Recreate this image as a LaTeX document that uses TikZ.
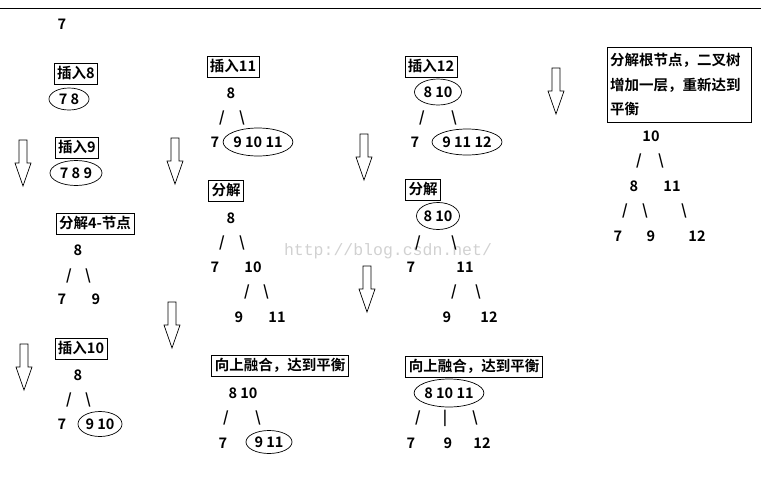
\documentclass[tikz,border=0pt]{standalone}
\usepackage{fontspec}
\setmainfont{Noto Sans CJK SC}[BoldFont={Noto Sans CJK SC Bold}]
\newfontfamily\wmfont{Liberation Mono}
\usetikzlibrary{shapes.geometric}
\begin{document}
\begin{tikzpicture}[x=1pt,y=-1pt,
  lbl/.style={font=\bfseries\fontsize{14.5}{16}\selectfont, inner sep=0pt},
  box/.style={lbl, draw, line width=0.8pt, inner xsep=3pt, inner ysep=3.5pt, text height=12pt, text depth=2.5pt},
  oval/.style={lbl, draw, ellipse, line width=0.7pt, inner sep=0pt},
  downblock/.pic={\draw[line width=0.7pt, fill=white] (-4,0) -- (4,0) -- (4,23) -- (8,23) -- (0,46) -- (-8,23) -- (-4,23) -- cycle;}
]
\useasboundingbox (0,0) rectangle (761,483);
\coordinate (tl) at (0,8);
\coordinate (tr) at (761,8);
\draw[line width=1pt] (tl) -- (tr);

% watermark
\node[font=\wmfont\fontsize{16.5}{16.5}\selectfont, text=black!18, inner sep=0pt] (wm) at (388,251) {http://blog.csdn.net/};

% arrows
\pic (a1) at (23,140) {downblock};
\pic (a2) at (175,138) {downblock};
\pic (a3) at (172,302) {downblock};
\pic (a4) at (24,344) {downblock};
\pic (a5) at (364,134) {downblock};
\pic (a6) at (367,266) {downblock};
\pic (a7) at (556,68) {downblock};

% column 1
\node[lbl] (c1n0) at (62,24) {7};
\node[box] (c1b1) at (76,74) {插入8};
\node[oval, minimum width=40, minimum height=22] (c1e1) at (69,99) {7 8};
\node[box] (c1b2) at (77,148) {插入9};
\node[oval, minimum width=52, minimum height=25] (c1e2) at (76,173) {7 8 9};
\node[box] (c1b3) at (95,224) {分解4-节点};
\node[lbl] (c1n1) at (78,250) {8};
\node[lbl] (c1s1) at (69,276) {/};
\node[lbl] (c1s2) at (88,276) {\textbackslash};
\node[lbl] (c1n2) at (62,299) {7};
\node[lbl] (c1n3) at (96,299) {9};
\node[box] (c1b4) at (81,349) {插入10};
\node[lbl] (c1n4) at (78,375) {8};
\node[lbl] (c1s3) at (69,400) {/};
\node[lbl] (c1s4) at (88,400) {\textbackslash};
\node[lbl] (c1n5) at (62,424) {7};
\node[oval, minimum width=44, minimum height=25] (c1e3) at (100,424) {9 10};

% column 2
\node[box] (c2b1) at (233,67) {插入11};
\node[lbl] (c2n1) at (231,93) {8};
\node[lbl] (c2s1) at (222,118) {/};
\node[lbl] (c2s2) at (242,118) {\textbackslash};
\node[lbl] (c2n2) at (215,142) {7};
\node[oval, minimum width=62, minimum height=28] (c2e1) at (258,142) {9 10 11};
\node[box] (c2b2) at (226,191) {分解};
\node[lbl] (c2n3) at (231,218) {8};
\node[lbl] (c2s3) at (222,243) {/};
\node[lbl] (c2s4) at (242,243) {\textbackslash};
\node[lbl] (c2n4) at (215,267) {7};
\node[lbl] (c2n5) at (253,267) {10};
\node[lbl] (c2s5) at (247,292) {/};
\node[lbl] (c2s6) at (266,292) {\textbackslash};
\node[lbl] (c2n6) at (239,317) {9};
\node[lbl] (c2n7) at (277,317) {11};
\node[box] (c2b3) at (280,366) {向上融合，达到平衡};
\node[lbl] (c2n8) at (243,393) {8 10};
\node[lbl] (c2s7) at (226,418) {/};
\node[lbl] (c2s8) at (258,418) {\textbackslash};
\node[lbl] (c2n9) at (223,443) {7};
\node[oval, minimum width=46, minimum height=23] (c2e2) at (269,442) {9 11};

% column 3
\node[box] (c3b1) at (431,67) {插入12};
\node[oval, minimum width=47, minimum height=26] (c3e1) at (438,92) {8 10};
\node[lbl] (c3s1) at (422,118) {/};
\node[lbl] (c3s2) at (454,118) {\textbackslash};
\node[lbl] (c3n1) at (415,142) {7};
\node[oval, minimum width=70, minimum height=26] (c3e2) at (467,142) {9 11 12};
\node[box] (c3b2) at (423,190) {分解};
\node[oval, minimum width=43, minimum height=27] (c3e3) at (438,216) {8 10};
\node[lbl] (c3s3) at (418,243) {/};
\node[lbl] (c3s4) at (454,243) {\textbackslash};
\node[lbl] (c3n2) at (411,267) {7};
\node[lbl] (c3n3) at (465,267) {11};
\node[lbl] (c3s5) at (454,292) {/};
\node[lbl] (c3s6) at (478,292) {\textbackslash};
\node[lbl] (c3n4) at (447,317) {9};
\node[lbl] (c3n5) at (489,317) {12};
\node[box] (c3b3) at (474,367) {向上融合，达到平衡};
\node[oval, minimum width=68, minimum height=28] (c3e4) at (449,393) {8 10 11};
\node[lbl] (c3s7) at (418,418) {/};
\node[lbl] (c3s8) at (445,418) {|};
\node[lbl] (c3s9) at (475,418) {\textbackslash};
\node[lbl] (c3n6) at (411,443) {7};
\node[lbl] (c3n7) at (448,443) {9};
\node[lbl] (c3n8) at (482,443) {12};

% column 4
\node[lbl, draw, line width=0.8pt, minimum width=144, minimum height=75, text width=138, align=left, font=\bfseries\fontsize{14.5}{24.5}\selectfont] (c4b1) at (679,84.5) {分解根节点，二叉树\\增加一层，重新达到\\平衡};
\node[lbl] (c4n1) at (651,136) {10};
\node[lbl] (c4s1) at (639,161) {/};
\node[lbl] (c4s2) at (661,161) {\textbackslash};
\node[lbl] (c4n2) at (634,186) {8};
\node[lbl] (c4n3) at (672,186) {11};
\node[lbl] (c4s3) at (625,211) {/};
\node[lbl] (c4s4) at (645,211) {\textbackslash};
\node[lbl] (c4s5) at (684,211) {\textbackslash};
\node[lbl] (c4n4) at (618,236) {7};
\node[lbl] (c4n5) at (651,236) {9};
\node[lbl] (c4n6) at (697,236) {12};
\end{tikzpicture}
\end{document}
